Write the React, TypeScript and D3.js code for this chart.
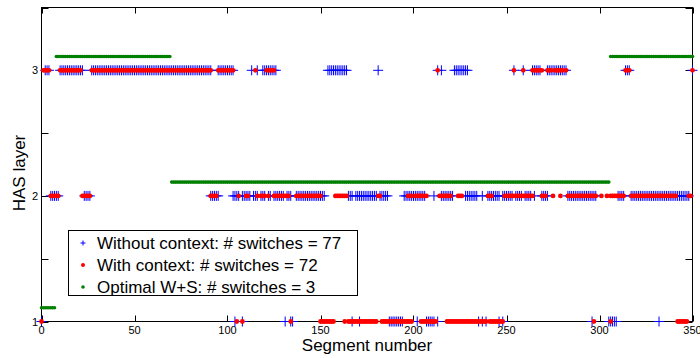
import React, { useEffect, useRef } from "react";
import * as d3 from "d3";

// axis ticks
const xTicks = [0, 50, 100, 150, 200, 250, 300, 350];
const yTicks = [1, 1.5, 2, 2.5, 3, 3.5];
const yTickLabels = ["1", "", "2", "", "3", ""];

// HAS layer picked per segment, written as runs [first segment, last segment]
// "Without context" (blue +)
const withoutCtxLayer3 = [[2, 4], [10, 22], [27, 91], [95, 103], [113, 113], [116, 116], [119, 126], [154, 164], [181, 181], [213, 213], [215, 215], [222, 229], [254, 254], [259, 259], [264, 268], [272, 282], [314, 316], [350, 350]];
const withoutCtxLayer2 = [[5, 9], [23, 26], [91, 95], [103, 106], [108, 112], [114, 116], [118, 120], [122, 123], [125, 130], [132, 134], [137, 152], [165, 167], [169, 180], [182, 186], [195, 206], [211, 211], [215, 221], [228, 234], [237, 237], [240, 246], [248, 253], [255, 258], [260, 263], [265, 265], [269, 272], [283, 298], [310, 313], [317, 348]];
const withoutCtxLayer1 = [[0, 0], [104, 104], [108, 108], [131, 131], [134, 135], [167, 167], [171, 171], [187, 194], [202, 202], [207, 211], [213, 213], [235, 235], [237, 237], [239, 239], [246, 246], [248, 248], [296, 296], [305, 309], [332, 332]];

// "With context" (red dots)
const withCtxLayer3 = [[1, 4], [10, 21], [27, 91], [95, 103], [115, 115], [121, 125], [213, 213], [254, 254], [259, 259], [264, 269], [272, 274], [276, 280], [282, 282], [314, 316], [350, 350]];
const withCtxLayer2 = [[5, 9], [22, 26], [91, 94], [106, 106], [110, 111], [116, 116], [118, 120], [122, 122], [125, 133], [137, 150], [158, 164], [181, 182], [197, 199], [201, 207], [214, 220], [224, 226], [240, 242], [249, 264], [269, 271], [275, 275], [279, 279], [283, 298], [301, 301], [304, 304], [306, 313], [317, 341], [348, 349]];
const withCtxLayer1 = [[0, 0], [105, 105], [108, 108], [134, 134], [150, 157], [163, 163], [165, 180], [183, 199], [204, 212], [218, 239], [241, 248], [297, 297], [306, 306], [342, 347]];

// "Optimal W+S" (green dots), runs [first, last, layer]
const optimalRuns = [[0, 7, 1], [8, 69, 3], [70, 305, 2], [306, 350, 3]];

const legendLabels = [
  "Without context: # switches = 77",
  "With context: # switches = 72",
  "Optimal W+S: # switches = 3",
];

// turn runs into one point per segment
const expand = (runs, layer) => {
  const pts = [];
  runs.forEach(([a, b]) => {
    for (let s = a; s <= b; s++) pts.push({ seg: s, layer });
  });
  return pts;
};

const App = () => {
  const svgRef = useRef(null);
  const width = 700;
  const height = 358;

  useEffect(() => {
    const svg = d3.select(svgRef.current);
    svg.selectAll("*").remove();

    const font = "'Liberation Sans', Arial, Helvetica, sans-serif";
    const left = 41.5;
    const right = 692.5;
    const top = 7.5;
    const bottom = 321.5;

    const x = d3.scaleLinear().domain([0, 350]).range([left, right]);
    const y = d3.scaleLinear().domain([1, 3.5]).range([bottom, top]);

    svg.append("rect").attr("width", width).attr("height", height).attr("fill", "white");

    // axes box
    svg
      .append("rect")
      .attr("x", left)
      .attr("y", top)
      .attr("width", right - left)
      .attr("height", bottom - top)
      .attr("fill", "white")
      .attr("stroke", "black")
      .attr("stroke-width", 1);

    // inward ticks, mirrored on the opposite side
    const ticks = svg.append("g").attr("stroke", "black").attr("stroke-width", 1);
    xTicks.forEach((t) => {
      const px = Math.round(x(t)) + 0.5;
      ticks.append("line").attr("x1", px).attr("x2", px).attr("y1", bottom).attr("y2", bottom - 6);
      ticks.append("line").attr("x1", px).attr("x2", px).attr("y1", top).attr("y2", top + 6);
    });
    yTicks.forEach((t) => {
      const py = Math.round(y(t)) + 0.5;
      ticks.append("line").attr("x1", left).attr("x2", left + 7).attr("y1", py).attr("y2", py);
      ticks.append("line").attr("x1", right).attr("x2", right - 7).attr("y1", py).attr("y2", py);
    });

    // tick labels
    svg
      .append("g")
      .selectAll("text")
      .data(xTicks)
      .join("text")
      .attr("x", (d) => x(d))
      .attr("y", 334)
      .attr("text-anchor", "middle")
      .style("font-family", font)
      .style("font-size", "11px")
      .text((d) => d);

    svg
      .append("g")
      .selectAll("text")
      .data(yTicks)
      .join("text")
      .attr("x", 38)
      .attr("y", (d) => y(d) + 4)
      .attr("text-anchor", "end")
      .style("font-family", font)
      .style("font-size", "11px")
      .text((d, i) => yTickLabels[i]);

    // without context: blue +
    const bluePts = [
      ...expand(withoutCtxLayer3, 3),
      ...expand(withoutCtxLayer2, 2),
      ...expand(withoutCtxLayer1, 1),
    ];
    svg
      .append("g")
      .selectAll("path")
      .data(bluePts)
      .join("path")
      .attr("d", (d) => {
        const cx = x(d.seg);
        const cy = y(d.layer);
        return `M${cx - 5},${cy}h10M${cx},${cy - 5}v10`;
      })
      .attr("stroke", "#0000ff")
      .attr("stroke-width", 1)
      .attr("fill", "none");

    // with context: red dots
    const redPts = [
      ...expand(withCtxLayer3, 3),
      ...expand(withCtxLayer2, 2),
      ...expand(withCtxLayer1, 1),
    ];
    svg
      .append("g")
      .selectAll("circle")
      .data(redPts)
      .join("circle")
      .attr("cx", (d) => x(d.seg))
      .attr("cy", (d) => y(d.layer))
      .attr("r", 2.4)
      .attr("fill", "#ff0000");

    // optimal: green dots, lifted a little so they don't hide the others
    const greenPts = [];
    optimalRuns.forEach(([a, b, layer]) => {
      greenPts.push(...expand([[a, b]], layer));
    });
    svg
      .append("g")
      .selectAll("circle")
      .data(greenPts)
      .join("circle")
      .attr("cx", (d) => x(d.seg))
      .attr("cy", (d) => y(d.layer + 0.11))
      .attr("r", 1.8)
      .attr("fill", "#008000");

    // axis labels
    svg
      .append("text")
      .attr("x", (left + right) / 2)
      .attr("y", 351)
      .attr("text-anchor", "middle")
      .style("font-family", font)
      .style("font-size", "17px")
      .text("Segment number");

    svg
      .append("text")
      .attr("transform", "translate(25,173) rotate(-90)")
      .attr("text-anchor", "middle")
      .style("font-family", font)
      .style("font-size", "17px")
      .text("HAS layer");

    // legend
    const legend = svg.append("g");
    legend
      .append("rect")
      .attr("x", 68.5)
      .attr("y", 230.5)
      .attr("width", 289)
      .attr("height", 65)
      .attr("fill", "white")
      .attr("stroke", "black")
      .attr("stroke-width", 1);

    const rowY = [243, 265, 287];
    legend
      .append("path")
      .attr("d", `M80.5,${rowY[0]}h5M83,${rowY[0] - 2.5}v5`)
      .attr("stroke", "#0000ff")
      .attr("stroke-width", 1);
    legend.append("circle").attr("cx", 83).attr("cy", rowY[1]).attr("r", 2).attr("fill", "#ff0000");
    legend.append("circle").attr("cx", 83).attr("cy", rowY[2]).attr("r", 1.8).attr("fill", "#008000");

    legend
      .selectAll("text")
      .data(legendLabels)
      .join("text")
      .attr("x", 97)
      .attr("y", (d, i) => rowY[i] + 6)
      .style("font-family", font)
      .style("font-size", "17px")
      .text((d) => d);
  }, []);

  return (
    <svg
      ref={svgRef}
      width={width}
      height={height}
      style={{ position: "absolute", left: 0, top: 0, display: "block" }}
    ></svg>
  );
};

export default App;
